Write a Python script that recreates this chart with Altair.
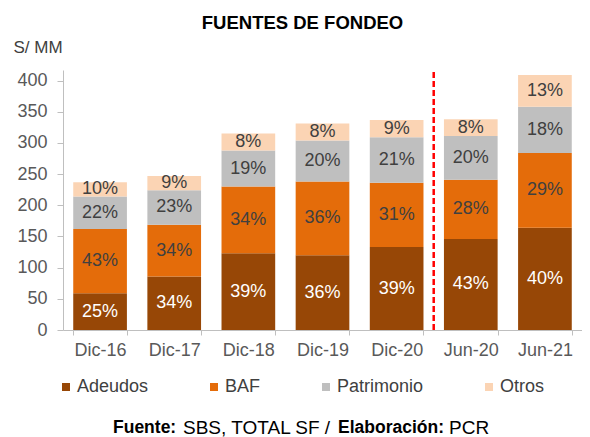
import altair as alt
import pandas as pd

categories = ["Dic-16", "Dic-17", "Dic-18", "Dic-19", "Dic-20", "Jun-20", "Jun-21"]
series = ["Adeudos", "BAF", "Patrimonio", "Otros"]
colors = ["#974706", "#E46C0A", "#BFBFBF", "#FBD4B4"]

adeudos = [59, 86, 123, 120, 133, 146, 164]
baf = [103, 83, 107, 118, 103, 95, 120]
patrimonio = [52, 55, 58, 66, 73, 70, 74]
otros = [23, 23, 27, 27, 28, 27, 51]

lab_adeudos = ["25%", "34%", "39%", "36%", "39%", "43%", "40%"]
lab_baf = ["43%", "34%", "34%", "36%", "31%", "28%", "29%"]
lab_patrimonio = ["22%", "23%", "19%", "20%", "21%", "20%", "18%"]
lab_otros = ["10%", "9%", "8%", "8%", "9%", "8%", "13%"]

y_ticks = [0, 50, 100, 150, 200, 250, 300, 350, 400]

FONT = "Liberation Sans"
W, H = 519, 260
P_IN, P_OUT = 0.276, 0.138
STEP = W / len(categories)

vals = [adeudos, baf, patrimonio, otros]
labs = [lab_adeudos, lab_baf, lab_patrimonio, lab_otros]
rows = []
for i, c in enumerate(categories):
    base = 0
    for s, v, l in zip(series, vals, labs):
        rows.append(dict(cat=c, series=s, start=base, end=base + v[i],
                         mid=base + v[i] / 2, label=l[i],
                         tcolor="#FFFFFF" if s == "Adeudos" else "#404040"))
        base += v[i]
df = pd.DataFrame(rows)

xscale = alt.Scale(domain=categories, paddingInner=P_IN, paddingOuter=P_OUT)
yscale = alt.Scale(domain=[0, 417], nice=False)

xaxis = alt.Axis(title=None, labelAngle=0, labelFontSize=18, labelFont=FONT,
                 labelColor="#595959", domainColor="#BFBFBF", tickColor="#BFBFBF",
                 tickSize=5, tickBand="extent", labelPadding=6)
yaxis = alt.Axis(values=y_ticks, tickCount=len(y_ticks), title="S/ MM", titleAngle=0,
                 titleAlign="left", titleBaseline="middle", titleX=-50, titleY=-23,
                 titleFontSize=17, titleFontWeight="normal", titleFont=FONT,
                 titleColor="#404040", labelFontSize=18, labelFont=FONT,
                 labelColor="#595959", labelOverlap=False, labelFlush=False,
                 domainColor="#BFBFBF", tickColor="#BFBFBF", tickSize=6,
                 labelPadding=10, grid=False)

base = alt.Chart(df)

bars = base.mark_bar().encode(
    x=alt.X("cat:N", scale=xscale, sort=categories, axis=xaxis),
    y=alt.Y("start:Q", scale=yscale, axis=yaxis, title="S/ MM"),
    y2="end:Q",
    color=alt.Color("series:N", scale=alt.Scale(domain=series, range=colors),
                    legend=alt.Legend(title=None, orient="none", legendX=-6, legendY=308,
                                      direction="horizontal", columns=4, columnPadding=56,
                                      symbolType="square", symbolSize=64, symbolStrokeWidth=0,
                                      labelFontSize=18, labelFont=FONT, labelColor="#404040",
                                      labelOffset=2)),
    order=alt.Order("start:Q"),
)

texts = base.mark_text(fontSize=18, font=FONT, baseline="middle").encode(
    x=alt.X("cat:N", scale=xscale, sort=categories, axis=xaxis),
    y=alt.Y("mid:Q", scale=yscale, axis=yaxis, title="S/ MM"),
    text="label:N",
    color=alt.Color("tcolor:N", scale=None),
)

rule_df = pd.DataFrame({"cat": ["Jun-20"]})
rule = alt.Chart(rule_df).mark_rule(color="#FF0000", strokeWidth=2.5, strokeDash=[6, 3],
                                    xOffset=-P_OUT * STEP).encode(
    x=alt.X("cat:N", scale=xscale, sort=categories, bandPosition=0, axis=xaxis),
    y=alt.value(2),
    y2=alt.value(H),
)

title_df = pd.DataFrame({"t": ["FUENTES DE FONDEO"]})
title = alt.Chart(title_df).mark_text(fontSize=18.5, font=FONT, fontWeight="bold",
                                      color="#000000", align="center", baseline="middle").encode(
    text="t:N", x=alt.value(239.5), y=alt.value(-47))

src_parts = ["Fuente:", "SBS, TOTAL SF /", "Elaboración:", "PCR"]
src_bold = [True, False, True, False]
src_x = [50, 120, 275, 386]
src_layers = []
for t, b, xx in zip(src_parts, src_bold, src_x):
    d = pd.DataFrame({"t": [t]})
    src_layers.append(
        alt.Chart(d).mark_text(fontSize=17.5 if b else 19, font=FONT,
                               fontWeight="bold" if b else "normal",
                               color="#000000", align="left", baseline="middle").encode(
            text="t:N", x=alt.value(xx), y=alt.value(358)))

chart = alt.layer(bars, texts, rule, title, *src_layers).properties(
    width=W, height=H,
    autosize=alt.AutoSizeParams(type="none"),
    padding={"left": 55, "top": 62, "right": 0, "bottom": 107},
).configure_view(stroke=None)

chart.save("out.html", embed_options={"renderer": "svg", "actions": False})
